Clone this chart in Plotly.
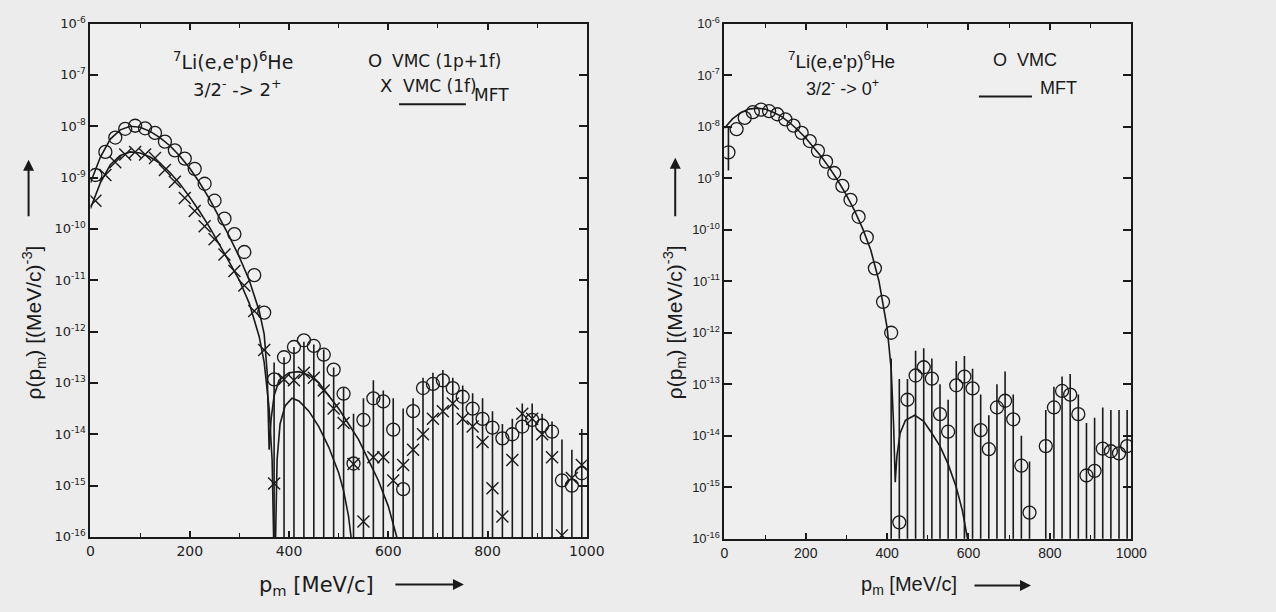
import plotly.graph_objects as go

W, H = 1276, 612

# ---------------- data (log10 of rho) ----------------
p_grid = [10, 30, 50, 70, 90, 110, 130, 150, 170, 190,
          210, 230, 250, 270, 290, 310, 330, 350, 370, 390,
          410, 430, 450, 470, 490, 510, 530, 550, 570, 590,
          610, 630, 650, 670, 690, 710, 730, 750, 770, 790,
          810, 830, 850, 870, 890, 910, 930, 950, 970, 990]

# left panel: 7Li(e,e'p)6He 3/2- -> 2+
left_vmc_1p1f_log = [-8.95, -8.5, -8.22, -8.05, -7.99, -8.04, -8.13, -8.3, -8.47, -8.63,
                     -8.83, -9.12, -9.45, -9.8, -10.1, -10.45, -10.9, -11.63, -12.93, -12.5,
                     -12.3, -12.17, -12.28, -12.45, -12.74, -13.21, -14.57, -13.72, -13.3, -13.36,
                     -13.91, -15.07, -13.55, -13.1, -13.02, -12.95, -13.1, -13.27, -13.5, -13.7,
                     -13.87, -14.08, -14.0, -13.85, -13.72, -13.83, -13.95, -14.9, -15.0, -14.76]
left_vmc_1f_log = [-9.45, -8.95, -8.7, -8.55, -8.5, -8.55, -8.62, -8.85, -9.08, -9.4,
                   -9.65, -9.95, -10.2, -10.5, -10.82, -11.1, -11.6, -12.36, -14.96, -12.93,
                   -12.95, -12.8, -12.9, -13.15, -13.5, -13.78, -14.58, -15.7, -14.45, -14.45,
                   -14.9, -14.6, -14.3, -14.0, -13.7, -13.55, -13.4, -13.7, -13.85, -14.15,
                   -15.05, -15.6, -14.5, -13.6, -13.7, -14.0, -14.45, -15.97, -14.85, -14.6]
# top end of the statistical error bars (lower ends fall below zero)
left_bar_top_log = [None, None, None, None, None, None, None, None, None, None,
                    None, None, None, None, None, None, None, None, -12.6, -12.5,
                    -12.3, -12.2, -12.25, -12.35, -12.7, -13.1, -13.6, -13.3, -12.95, -13.15,
                    -13.3, -13.5, -13.3, -12.9, -12.8, -12.75, -12.9, -13.05, -13.2, -13.3,
                    -13.55, -13.8, -13.7, -13.4, -13.4, -13.6, -13.75, -14.1, -14.3, -13.9]

left_mft_1p1f_p = [0, 20, 40, 60, 80, 100, 120, 140, 160, 180, 200, 220, 240, 260, 280,
                   300, 320, 340, 350, 356, 360, 364, 370, 380, 400, 420, 440, 460, 480,
                   500, 520, 540, 560, 580, 600, 620]
left_mft_1p1f_log = [-9.1, -8.6, -8.25, -8.07, -8.0, -8.02, -8.1, -8.22, -8.38, -8.58,
                     -8.82, -9.1, -9.42, -9.78, -10.15, -10.55, -11.0, -11.6, -12.05, -12.8,
                     -14.3, -13.7, -13.25, -12.95, -12.8, -12.78, -12.85, -13.0, -13.25,
                     -13.5, -13.8, -14.1, -14.5, -14.9, -15.4, -16.1]
left_mft_1f_p = [0, 20, 40, 60, 80, 100, 120, 140, 160, 180, 200, 220, 240, 260, 280,
                 300, 320, 340, 350, 360, 366, 371, 376, 382, 392, 406, 420, 440, 460,
                 480, 500, 510, 520, 530]
left_mft_1f_log = [-9.6, -9.1, -8.75, -8.57, -8.5, -8.52, -8.6, -8.72, -8.9, -9.12,
                   -9.38, -9.66, -9.97, -10.3, -10.65, -11.0, -11.45, -12.1, -12.6, -13.5,
                   -14.5, -17.0, -14.5, -13.8, -13.45, -13.3, -13.35, -13.55, -13.85,
                   -14.25, -14.75, -15.1, -15.6, -16.4]

# right panel: 7Li(e,e'p)6He 3/2- -> 0+
right_vmc_log = [-8.5, -8.05, -7.83, -7.72, -7.67, -7.7, -7.76, -7.86, -7.98, -8.12,
                 -8.28, -8.47, -8.68, -8.9, -9.15, -9.42, -9.75, -10.15, -10.75, -11.4,
                 -12.0, -15.68, -13.3, -12.83, -12.67, -12.89, -13.58, -13.92, -13.02, -12.85,
                 -13.08, -13.89, -14.26, -13.45, -13.32, -13.68, -14.58, -15.49, None, -14.2,
                 -13.45, -13.13, -13.2, -13.58, -14.77, -14.68, -14.25, -14.3, -14.34, -14.2]
right_bar_top_log = [-8.02, None, None, None, None, None, None, None, None, None,
                     None, None, None, None, None, None, None, None, None, None,
                     -12.5, -12.9, -12.9, -12.35, -12.3, -12.5, -13.0, -13.3, -12.55, -12.45,
                     -12.7, -13.2, -13.6, -13.0, -12.75, -13.2, -14.0, -14.5, None, -13.5,
                     -13.05, -12.85, -12.8, -13.2, -13.75, -13.65, -13.45, -13.5, -13.5, -13.5]
right_bar_bottom_log = [-8.85] + [None] * 49

right_mft_p = [0, 20, 40, 60, 80, 100, 120, 140, 160, 180, 200, 220, 240, 260, 280,
               300, 320, 340, 360, 380, 400, 410, 416, 420, 424, 432, 445, 468, 490,
               510, 530, 550, 570, 585, 600]
right_mft_log = [-8.03, -7.85, -7.73, -7.66, -7.64, -7.66, -7.72, -7.8, -7.92, -8.06,
                 -8.22, -8.4, -8.6, -8.82, -9.06, -9.33, -9.63, -9.98, -10.4, -11.0,
                 -11.9, -12.7, -13.8, -14.9, -14.4, -13.95, -13.7, -13.6, -13.72,
                 -13.95, -14.2, -14.55, -15.0, -15.45, -16.1]

y_tick_exp = [-6, -7, -8, -9, -10, -11, -12, -13, -14, -15, -16]
x_tick_vals = [0, 200, 400, 600, 800, 1000]

# ---------------- helpers ----------------
def lin(vals):
    return [None if v is None else 10 ** v for v in vals]


def bar_arrays(vals_log, tops_log, bottoms_log=None):
    up, down = [], []
    for i, (v, t) in enumerate(zip(vals_log, tops_log)):
        if v is None or t is None:
            up.append(0)
            down.append(0)
            continue
        val = 10 ** v
        up.append(10 ** t - val)
        b = bottoms_log[i] if bottoms_log else None
        down.append(val - 10 ** b if b is not None else val)
    return up, down


def px(x):
    return x / W


def py(y):
    return 1 - y / H


INK = "#1a1a1a"
LFONT = "DejaVu Sans"
RFONT = "Liberation Sans"

fig = go.Figure()

lu, ld = bar_arrays(left_vmc_1p1f_log, left_bar_top_log)
fig.add_trace(go.Scatter(
    x=p_grid, y=lin(left_vmc_1p1f_log), mode="markers", name="VMC (1p+1f)",
    marker=dict(symbol="circle-open", size=13, color=INK, line=dict(width=1.3, color=INK)),
    error_y=dict(type="data", symmetric=False, array=lu, arrayminus=ld,
                 color=INK, thickness=1.6, width=0),
    xaxis="x", yaxis="y", showlegend=False))
fig.add_trace(go.Scatter(
    x=p_grid, y=lin(left_vmc_1f_log), mode="markers", name="VMC (1f)",
    marker=dict(symbol="x-thin-open", size=12, color=INK, line=dict(width=1.4, color=INK)),
    xaxis="x", yaxis="y", showlegend=False))
fig.add_trace(go.Scatter(
    x=left_mft_1p1f_p, y=lin(left_mft_1p1f_log), mode="lines", name="MFT",
    line=dict(color=INK, width=1.6), xaxis="x", yaxis="y", showlegend=False))
fig.add_trace(go.Scatter(
    x=left_mft_1f_p, y=lin(left_mft_1f_log), mode="lines", name="MFT (1f)",
    line=dict(color=INK, width=1.6), xaxis="x", yaxis="y", showlegend=False))

ru, rd = bar_arrays(right_vmc_log, right_bar_top_log, right_bar_bottom_log)
fig.add_trace(go.Scatter(
    x=p_grid, y=lin(right_vmc_log), mode="markers", name="VMC",
    marker=dict(symbol="circle-open", size=13, color=INK, line=dict(width=1.3, color=INK)),
    error_y=dict(type="data", symmetric=False, array=ru, arrayminus=rd,
                 color=INK, thickness=1.6, width=0),
    xaxis="x2", yaxis="y2", showlegend=False))
fig.add_trace(go.Scatter(
    x=right_mft_p, y=lin(right_mft_log), mode="lines", name="MFT",
    line=dict(color=INK, width=1.6), xaxis="x2", yaxis="y2", showlegend=False))

tick_vals = [10.0 ** e for e in y_tick_exp]
tick_text = ["10<sup>%d</sup>" % e for e in y_tick_exp]


def xaxis(domain, anchor, font, size):
    return dict(domain=domain, anchor=anchor, range=[0, 1000], tickvals=x_tick_vals,
                ticks="inside", ticklen=6, tickwidth=1.5, tickcolor=INK,
                minor=dict(dtick=100, tick0=0, ticks="inside", ticklen=4, tickcolor=INK, tickwidth=1.2),
                showline=True, linewidth=2, linecolor=INK, mirror="allticks",
                showgrid=False, zeroline=False,
                tickfont=dict(family=font, size=size, color="#222"))


def yaxis(domain, anchor, font):
    return dict(domain=domain, anchor=anchor, type="log", range=[-16, -6],
                tickvals=tick_vals, ticktext=tick_text,
                ticks="inside", ticklen=8, tickwidth=1.5, tickcolor=INK,
                showline=True, linewidth=2, linecolor=INK, mirror="allticks",
                showgrid=False, zeroline=False,
                tickfont=dict(family=font, size=13, color="#222"))


fig.update_layout(
    width=W, height=H,
    margin=dict(l=0, r=0, t=0, b=0),
    paper_bgcolor="#ececec", plot_bgcolor="#efefef",
    xaxis=xaxis([px(88), px(593)], "y", LFONT, 14),
    yaxis=yaxis([py(543), py(15)], "x", LFONT),
    xaxis2=xaxis([px(733), px(1147)], "y2", RFONT, 14),
    yaxis2=yaxis([py(545), py(15)], "x2", RFONT),
)

ann = []


def text(x, y, s, size, font, xanchor="center", angle=0):
    ann.append(dict(x=px(x), y=py(y), xref="paper", yref="paper", text=s, showarrow=False,
                    xanchor=xanchor, yanchor="middle", textangle=angle,
                    font=dict(family=font, size=size, color=INK)))


def arrow(x0, y0, x1, y1):
    ann.append(dict(x=px(x1), y=py(y1), xref="paper", yref="paper", text="",
                    showarrow=True, ax=x0 - x1, ay=y0 - y1, arrowhead=2, arrowsize=1.1,
                    arrowwidth=2, arrowcolor=INK))


# left panel texts
text(233, 53, "<sup>7</sup>Li(e,e'p)<sup>6</sup>He", 19, LFONT)
text(238, 81, "3/2<sup>-</sup> -> 2<sup>+</sup>", 18, LFONT)
text(378, 53, "O", 18, LFONT)
text(393, 53, "VMC (1p+1f)", 17, LFONT, "left")
text(389, 79, "X", 18, LFONT)
text(404, 79, "VMC (1f)", 17, LFONT, "left")
text(476, 88, "MFT", 17, LFONT, "left")
text(318, 593, "p<sub>m</sub> [MeV/c]", 21, LFONT)
text(30, 322, "ρ(p<sub>m</sub>) [(MeV/c)<sup>-3</sup>]", 21, RFONT, angle=-90)
arrow(398, 592, 468, 592)
arrow(25, 213, 25, 155)

# right panel texts
text(852, 52, "<sup>7</sup>Li(e,e'p)<sup>6</sup>He", 19, RFONT)
text(853, 81, "3/2<sup>-</sup> -> 0<sup>+</sup>", 18, RFONT)
text(1013, 52, "O", 18, RFONT)
text(1029, 52, "VMC", 18, RFONT, "left")
text(1052, 81, "MFT", 18, RFONT, "left")
text(921, 593, "p<sub>m</sub> [MeV/c]", 20, RFONT)
text(682, 322, "ρ(p<sub>m</sub>) [(MeV/c)<sup>-3</sup>]", 21, RFONT, angle=-90)
arrow(987, 593, 1045, 593)
arrow(683, 213, 683, 153)

fig.update_layout(annotations=ann, shapes=[
    dict(type="line", xref="paper", yref="paper", x0=px(402), x1=px(470), y0=py(98), y1=py(98),
         line=dict(color=INK, width=2)),
    dict(type="line", xref="paper", yref="paper", x0=px(992), x1=px(1046), y0=py(90), y1=py(90),
         line=dict(color=INK, width=2)),
])

fig.write_html("out.html")
